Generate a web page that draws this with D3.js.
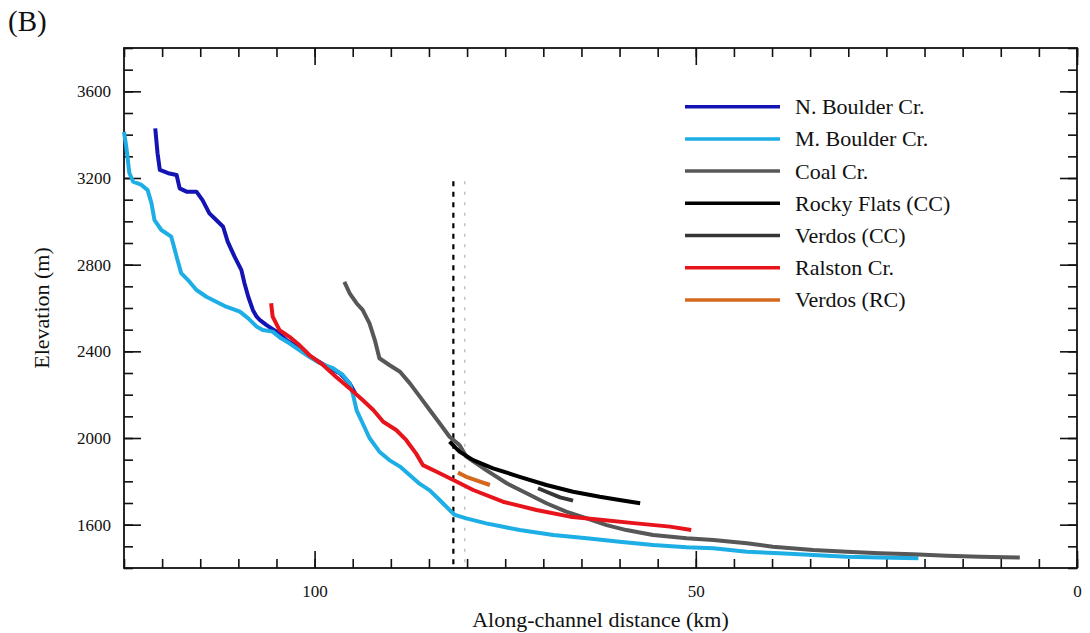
<!DOCTYPE html>
<html><head><meta charset="utf-8">
<script src="https://cdn.jsdelivr.net/npm/d3@7"></script>
<style>
body{margin:0;background:#fff}
svg{display:block}
</style>
</head><body>
<svg id="chart" width="1090" height="633"></svg>
<script>
// ---- data (distance km, elevation m) ----
const seriesNames = ["N. Boulder Cr.","M. Boulder Cr.","Coal Cr.","Rocky Flats (CC)","Verdos (CC)","Ralston Cr.","Verdos (RC)"];

const nBoulder = [[120.9,3429],[120.6,3314],[120.3,3237],[119.2,3222],[118.1,3214],[117.7,3152],[116.8,3137],[115.5,3137],[114.7,3098],[113.8,3037],[112.9,3006],[112.0,2975],[111.4,2906],[110.5,2837],[109.6,2775],[109.2,2714],[108.7,2652],[108.1,2591],[107.6,2560],[107.2,2545],[106.3,2521],[105.0,2491],[103.7,2452],[102.0,2414],[100.2,2368],[98.0,2322],[96.7,2299],[95.4,2252],[94.7,2208]];

const mBoulder = [[125.0,3413],[124.7,3344],[124.3,3223],[123.8,3183],[122.7,3168],[121.9,3144],[121.4,3084],[121.0,3006],[120.1,2960],[118.8,2929],[118.1,2837],[117.5,2761],[116.6,2729],[115.5,2683],[114.2,2652],[112.9,2629],[111.6,2606],[109.8,2583],[108.7,2552],[107.6,2514],[106.8,2498],[105.5,2491],[104.4,2460],[103.3,2437],[102.0,2406],[100.7,2375],[99.3,2345],[97.6,2322],[96.3,2291],[95.4,2252],[95.0,2206],[94.5,2129],[93.7,2068],[92.8,2000],[91.5,1937],[90.2,1898],[88.8,1868],[86.2,1788],[84.9,1758],[83.6,1714],[82.3,1668],[81.6,1645],[80.1,1629],[77.5,1606],[73.1,1575],[68.7,1552],[64.3,1537],[60.0,1521],[55.6,1506],[51.2,1496],[47.7,1491],[43.3,1475],[39.0,1468],[34.6,1460],[30.2,1452],[25.9,1448],[20.8,1445]];

const coal = [[96.1,2721],[95.4,2668],[94.5,2622],[93.7,2591],[92.8,2529],[92.1,2452],[91.5,2368],[90.2,2337],[88.8,2306],[87.5,2252],[86.2,2191],[84.9,2129],[83.6,2068],[82.3,2006],[81.0,1968],[80.1,1914],[77.5,1852],[74.8,1791],[72.2,1745],[69.6,1699],[67.0,1660],[64.3,1629],[61.7,1598],[59.1,1575],[55.6,1552],[51.2,1537],[47.7,1529],[43.3,1514],[39.9,1498],[34.6,1483],[30.2,1475],[25.9,1468],[21.5,1463],[17.1,1457],[12.7,1452],[7.5,1448]];

const rockyFlats = [[82.3,1983],[81.0,1937],[79.2,1898],[76.6,1860],[73.1,1821],[69.6,1783],[66.1,1752],[62.6,1729],[60.0,1714],[57.3,1699]];

const verdosCC = [[70.7,1768],[69.6,1752],[67.8,1726],[66.1,1711]];

const ralston = [[105.7,2622],[105.5,2560],[104.6,2498],[103.3,2467],[102.0,2429],[100.7,2383],[98.9,2337],[97.2,2283],[95.4,2229],[93.7,2175],[92.3,2129],[91.0,2075],[89.3,2037],[88.0,1991],[86.7,1929],[85.8,1875],[84.0,1844],[81.8,1806],[79.2,1760],[75.3,1706],[70.9,1668],[66.5,1637],[62.2,1622],[57.8,1606],[53.4,1591],[50.6,1575]];

const verdosRC = [[81.2,1840],[80.1,1821],[78.6,1802],[77.0,1783]];

const xTickLabels = [100, 50, 0];
const yTickLabels = [1600, 2000, 2400, 2800, 3200, 3600];
const refLineKm = [81.8, 80.3];
const refLineTop = 3185;

// ---- styles ----
const FONT = "Liberation Serif";
const colors = ["#1414b4","#1eaee6","#575757","#000000","#363636","#e8141c","#d4681e"];
const seriesData = [nBoulder, mBoulder, coal, rockyFlats, verdosCC, ralston, verdosRC];

const svg = d3.select("#chart");
const L = 124, R = 1077, T = 48, B = 568;

const x = d3.scaleLinear().domain([125, 0]).range([L, R]);
const y = d3.scaleLinear().domain([1400, 3800]).range([B, T]);

const minorX = d3.range(0, 126, 5);
const minorY = d3.range(1400, 3801, 100);

function styleAxis(g){
  g.attr("font-family", FONT).attr("font-size", 17);
  g.select(".domain").remove();
  g.selectAll(".tick line").attr("stroke","#111").attr("stroke-width",1.6);
  g.selectAll(".tick text").attr("font-family",FONT).attr("font-size",17).attr("fill","#111");
}

// bottom
svg.append("g").attr("transform",`translate(0,${B})`)
  .call(d3.axisBottom(x).tickValues(minorX).tickSize(-9).tickFormat(""))
  .call(styleAxis);
svg.append("g").attr("transform",`translate(0,${B})`)
  .call(d3.axisBottom(x).tickValues(xTickLabels).tickSize(-17).tickPadding(17).tickFormat(d3.format("d")))
  .call(styleAxis);
// top
svg.append("g").attr("transform",`translate(0,${T})`)
  .call(d3.axisTop(x).tickValues(minorX).tickSize(-9).tickFormat(""))
  .call(styleAxis);
svg.append("g").attr("transform",`translate(0,${T})`)
  .call(d3.axisTop(x).tickValues(xTickLabels).tickSize(-17).tickFormat(""))
  .call(styleAxis);
// left
svg.append("g").attr("transform",`translate(${L},0)`)
  .call(d3.axisLeft(y).tickValues(minorY).tickSize(-9).tickFormat(""))
  .call(styleAxis);
svg.append("g").attr("transform",`translate(${L},0)`)
  .call(d3.axisLeft(y).tickValues(yTickLabels).tickSize(-17).tickPadding(13).tickFormat(d3.format("d")))
  .call(styleAxis);
// right
svg.append("g").attr("transform",`translate(${R},0)`)
  .call(d3.axisRight(y).tickValues(minorY).tickSize(-9).tickFormat(""))
  .call(styleAxis);
svg.append("g").attr("transform",`translate(${R},0)`)
  .call(d3.axisRight(y).tickValues(yTickLabels).tickSize(-17).tickFormat(""))
  .call(styleAxis);

// frame
svg.append("rect").attr("x",L).attr("y",T).attr("width",R-L).attr("height",B-T)
  .attr("fill","none").attr("stroke","#111").attr("stroke-width",1.8);

// reference lines
svg.append("line").attr("x1",x(refLineKm[0])).attr("x2",x(refLineKm[0]))
  .attr("y1",y(refLineTop)).attr("y2",B)
  .attr("stroke","#000").attr("stroke-width",2.2).attr("stroke-dasharray","5,5.5");
svg.append("line").attr("x1",x(refLineKm[1])).attr("x2",x(refLineKm[1]))
  .attr("y1",y(refLineTop)).attr("y2",B)
  .attr("stroke","#b8b8b8").attr("stroke-width",1.3).attr("stroke-dasharray","3,7.5");

// series
const line = d3.line().x(d=>x(d[0])).y(d=>y(d[1]));
seriesData.forEach((data,i)=>{
  svg.append("path").datum(data).attr("d",line)
    .attr("fill","none").attr("stroke",colors[i]).attr("stroke-width",4)
    .attr("stroke-linejoin","round").attr("stroke-linecap","butt");
});

// legend
const legend = svg.append("g");
seriesNames.forEach((name,i)=>{
  const yy = 106.7 + i*32.2;
  legend.append("line").attr("x1",685).attr("x2",780).attr("y1",yy).attr("y2",yy)
    .attr("stroke",colors[i]).attr("stroke-width",3.5);
  legend.append("text").attr("x",795).attr("y",yy+7.5)
    .attr("font-family",FONT).attr("font-size",22).attr("fill","#111").text(name);
});

// axis titles
svg.append("text").attr("x",(L+R)/2).attr("y",627).attr("text-anchor","middle")
  .attr("font-family",FONT).attr("font-size",22).attr("fill","#111").text("Along-channel distance (km)");
svg.append("text").attr("transform",`translate(49,${(T+B)/2}) rotate(-90)`).attr("text-anchor","middle")
  .attr("font-family",FONT).attr("font-size",22).attr("fill","#111").text("Elevation (m)");
svg.append("text").attr("x",8).attr("y",31)
  .attr("font-family",FONT).attr("font-size",29).attr("fill","#111").text("(B)");
</script>
</body></html>
